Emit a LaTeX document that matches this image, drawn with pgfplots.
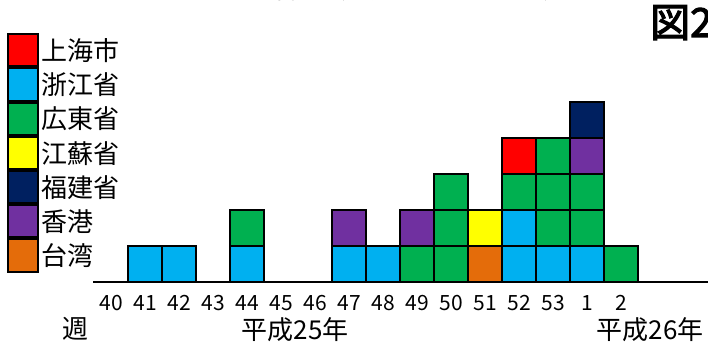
\documentclass[border=0pt]{standalone}
\usepackage{fontspec}
\setmainfont{Noto Sans CJK JP}
\newfontfamily\zufont{Noto Sans CJK JP}[FakeBold=3]
\usepackage{pgfplots}
\pgfplotsset{compat=1.18}
\definecolor{cSH}{HTML}{FF0000}
\definecolor{cZJ}{HTML}{00B0F0}
\definecolor{cGD}{HTML}{00B050}
\definecolor{cJS}{HTML}{FFFF00}
\definecolor{cFJ}{HTML}{002060}
\definecolor{cHK}{HTML}{7030A0}
\definecolor{cTW}{HTML}{E46C0A}
\begin{document}
\begin{tikzpicture}[x=1pt,y=1pt]
\path[use as bounding box] (0,0) rectangle (708,344);
\begin{axis}[
  at={(93pt,62pt)}, anchor=south west, scale only axis,
  x=34pt, y=36pt,
  xmin=-0.53, xmax=17.56, ymin=0, ymax=5.3,
  axis x line*=bottom, axis y line=none,
  x axis line style={line width=2.7pt,-},
  ybar stacked, bar width=34pt,
  clip=false,
  xtick={0,...,15},
  xticklabels={40,41,42,43,44,45,46,47,48,49,50,51,52,53,1,2},
  xtick style={draw=none},
  major tick length=0pt,
  xticklabel style={anchor=center, inner sep=0pt, yshift=-21pt, font=\fontsize{21}{21}\selectfont},
  /pgf/number format/assume math mode=true,
  every axis plot/.append style={draw=black, line width=2.7pt},
  legend style={at={(axis description cs:-0.1398,1.305)}, anchor=north west,
    draw=none, fill=none, row sep=0pt, inner sep=0pt,
    nodes={inner ysep=0pt, inner xsep=2.5pt, font=\fontsize{26}{26}\selectfont}},
  legend cell align=left,
  legend image code/.code={\draw[#1, draw=black, line width=2pt] (0pt,-16.1pt) rectangle (30pt,16.1pt);},
]
\addlegendimage{fill=cSH}\addlegendentry{上海市}
\addlegendimage{fill=cZJ}\addlegendentry{浙江省}
\addlegendimage{fill=cGD}\addlegendentry{広東省}
\addlegendimage{fill=cJS}\addlegendentry{江蘇省}
\addlegendimage{fill=cFJ}\addlegendentry{福建省}
\addlegendimage{fill=cHK}\addlegendentry{香港}
\addlegendimage{fill=cTW}\addlegendentry{台湾}
% Zhejiang (first layer)
\addplot[fill=cZJ, forget plot] coordinates {(0,0)(1,1)(2,1)(3,0)(4,1)(5,0)(6,0)(7,1)(8,1)(9,0)(10,0)(11,0)(12,1)(13,1)(14,1)(15,0)};
% Zhejiang (second layer)
\addplot[fill=cZJ, forget plot] coordinates {(0,0)(1,0)(2,0)(3,0)(4,0)(5,0)(6,0)(7,0)(8,0)(9,0)(10,0)(11,0)(12,1)(13,0)(14,0)(15,0)};
% Taiwan
\addplot[fill=cTW, forget plot] coordinates {(0,0)(1,0)(2,0)(3,0)(4,0)(5,0)(6,0)(7,0)(8,0)(9,0)(10,0)(11,1)(12,0)(13,0)(14,0)(15,0)};
% Guangdong (three layers)
\addplot[fill=cGD, forget plot] coordinates {(0,0)(1,0)(2,0)(3,0)(4,1)(5,0)(6,0)(7,0)(8,0)(9,1)(10,1)(11,0)(12,1)(13,1)(14,1)(15,1)};
\addplot[fill=cGD, forget plot] coordinates {(0,0)(1,0)(2,0)(3,0)(4,0)(5,0)(6,0)(7,0)(8,0)(9,0)(10,1)(11,0)(12,0)(13,1)(14,1)(15,0)};
\addplot[fill=cGD, forget plot] coordinates {(0,0)(1,0)(2,0)(3,0)(4,0)(5,0)(6,0)(7,0)(8,0)(9,0)(10,1)(11,0)(12,0)(13,1)(14,0)(15,0)};
% Jiangsu
\addplot[fill=cJS, forget plot] coordinates {(0,0)(1,0)(2,0)(3,0)(4,0)(5,0)(6,0)(7,0)(8,0)(9,0)(10,0)(11,1)(12,0)(13,0)(14,0)(15,0)};
% Hong Kong
\addplot[fill=cHK, forget plot] coordinates {(0,0)(1,0)(2,0)(3,0)(4,0)(5,0)(6,0)(7,1)(8,0)(9,1)(10,0)(11,0)(12,0)(13,0)(14,1)(15,0)};
% Shanghai
\addplot[fill=cSH, forget plot] coordinates {(0,0)(1,0)(2,0)(3,0)(4,0)(5,0)(6,0)(7,0)(8,0)(9,0)(10,0)(11,0)(12,1)(13,0)(14,0)(15,0)};
% Fujian
\addplot[fill=cFJ, forget plot] coordinates {(0,0)(1,0)(2,0)(3,0)(4,0)(5,0)(6,0)(7,0)(8,0)(9,0)(10,0)(11,0)(12,0)(13,0)(14,1)(15,0)};
\end{axis}
\node[anchor=base west, inner sep=0pt, font=\fontsize{24}{24}\selectfont] at (10,345.5) {発症週別・地域別患者報告数（平成25年第40週〜）};
\node[anchor=north west, inner sep=0pt, font=\fontsize{40}{40}\zufont] at (650,339) {図2};
\node[anchor=center, inner sep=0pt, font=\fontsize{26}{26}\selectfont] at (75,15) {週};
\node[anchor=center, inner sep=0pt, font=\fontsize{26}{26}\selectfont] at (295,14) {平成25年};
\node[anchor=center, inner sep=0pt, font=\fontsize{26}{26}\selectfont] at (650,14) {平成26年};
\end{tikzpicture}
\end{document}
